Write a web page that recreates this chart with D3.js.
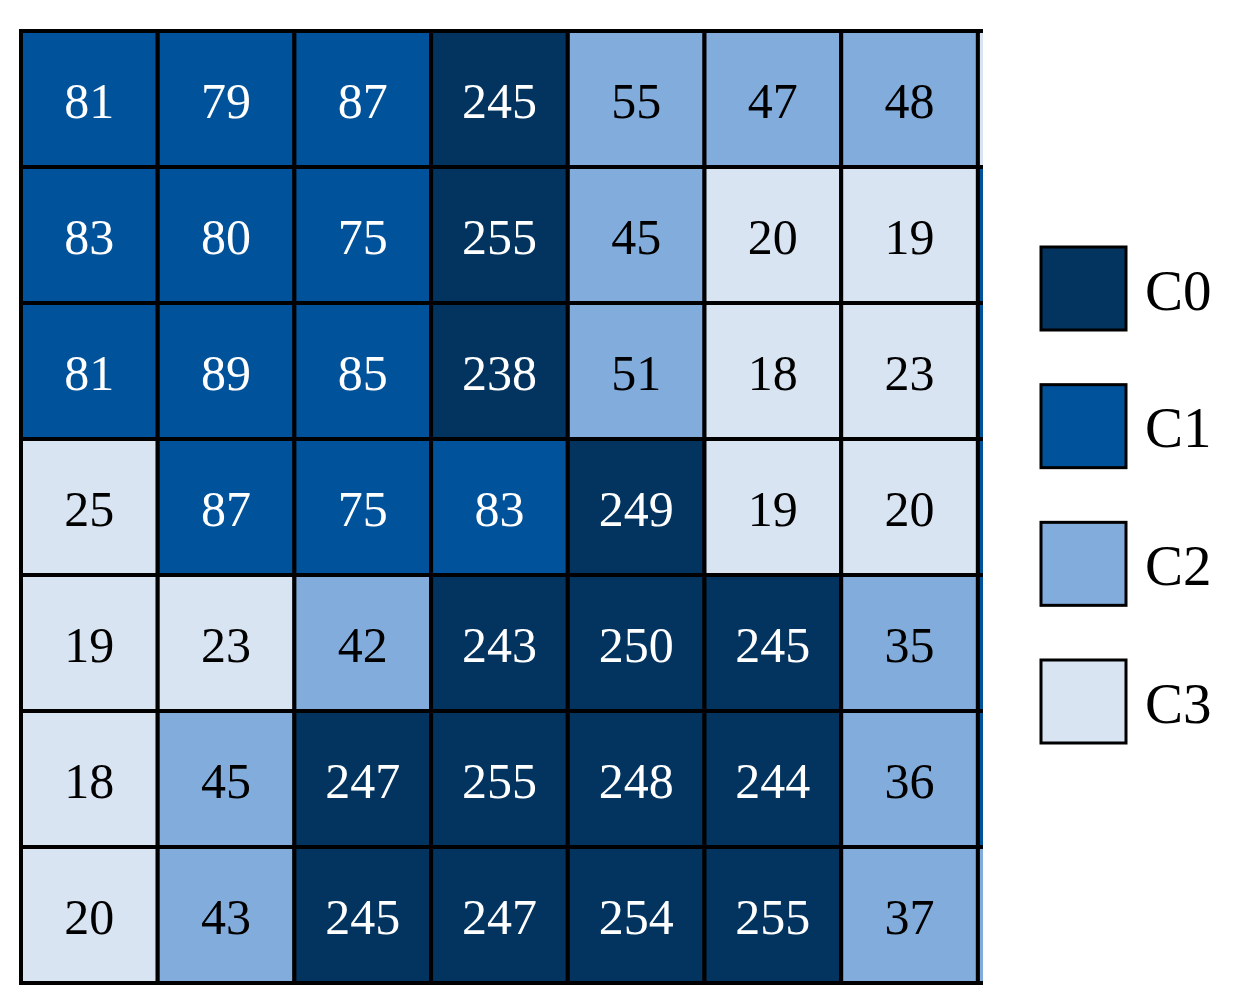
<!DOCTYPE html>
<html>
<head>
<meta charset="utf-8">
<script src="https://cdn.jsdelivr.net/npm/d3@7"></script>
<style>
  body { margin: 0; background: #fff; }
  svg { display: block; }
</style>
</head>
<body>
<svg id="chart" width="1241" height="1002"></svg>
<script>
// cell values, row by row (7 visible columns)
var values = [
  [81, 79, 87, 245, 55, 47, 48],
  [83, 80, 75, 255, 45, 20, 19],
  [81, 89, 85, 238, 51, 18, 23],
  [25, 87, 75, 83, 249, 19, 20],
  [19, 23, 42, 243, 250, 245, 35],
  [18, 45, 247, 255, 248, 244, 36],
  [20, 43, 245, 247, 254, 255, 37]
];
// cluster of each cell; the 8th column is cut off at the right edge
var clusters = [
  [1, 1, 1, 0, 2, 2, 2, 3],
  [1, 1, 1, 0, 2, 3, 3, 1],
  [1, 1, 1, 0, 2, 3, 3, 1],
  [3, 1, 1, 1, 0, 3, 3, 1],
  [3, 3, 2, 0, 0, 0, 2, 1],
  [3, 2, 0, 0, 0, 0, 2, 1],
  [3, 2, 0, 0, 0, 0, 2, 2]
];
var legendLabels = ["C0", "C1", "C2", "C3"];
var colors = ["#02345f", "#00529b", "#82acdc", "#d9e4f3"];
var textColors = ["#fff", "#fff", "#000", "#000"];

var svg = d3.select("#chart");

var nRows = clusters.length, nCols = clusters[0].length;
var x = d3.scaleBand().domain(d3.range(nCols)).range([21, 21 + nCols * 136.7]);
var y = d3.scaleBand().domain(d3.range(nRows)).range([31, 983]);

svg.append("clipPath").attr("id", "clip")
  .append("rect").attr("x", 0).attr("y", 0).attr("width", 983).attr("height", 1002);

var grid = svg.append("g").attr("clip-path", "url(#clip)");

var cells = [];
clusters.forEach(function(row, i) {
  row.forEach(function(c, j) {
    cells.push({ r: i, c: j, k: c, v: values[i][j] });
  });
});

grid.selectAll("rect.cell")
  .data(cells)
  .enter()
  .append("rect")
  .attr("class", "cell")
  .attr("x", d => x(d.c))
  .attr("y", d => y(d.r))
  .attr("width", x.bandwidth())
  .attr("height", y.bandwidth())
  .attr("fill", d => colors[d.k])
  .attr("stroke", "#000")
  .attr("stroke-width", 4);

grid.selectAll("text.val")
  .data(cells.filter(d => d.v !== undefined))
  .enter()
  .append("text")
  .attr("class", "val")
  .attr("x", d => x(d.c) + x.bandwidth() / 2)
  .attr("y", d => y(d.r) + y.bandwidth() / 2 + 2)
  .attr("text-anchor", "middle")
  .attr("dominant-baseline", "central")
  .attr("font-family", "'Liberation Serif', 'Times New Roman', serif")
  .attr("font-size", 50)
  .attr("fill", d => textColors[d.k])
  .text(d => d.v);

// legend
var ly = d3.scalePoint().domain(legendLabels).range([247, 660]);

var legend = svg.append("g");
legend.selectAll("rect")
  .data(legendLabels)
  .enter()
  .append("rect")
  .attr("x", 1041)
  .attr("y", d => ly(d))
  .attr("width", 85)
  .attr("height", 83)
  .attr("fill", (d, i) => colors[i])
  .attr("stroke", "#000")
  .attr("stroke-width", 3);

legend.selectAll("text")
  .data(legendLabels)
  .enter()
  .append("text")
  .attr("x", 1145)
  .attr("y", d => ly(d) + 43)
  .attr("dominant-baseline", "central")
  .attr("font-family", "'Liberation Serif', 'Times New Roman', serif")
  .attr("font-size", 57)
  .attr("fill", "#000")
  .text(d => d);
</script>
</body>
</html>
